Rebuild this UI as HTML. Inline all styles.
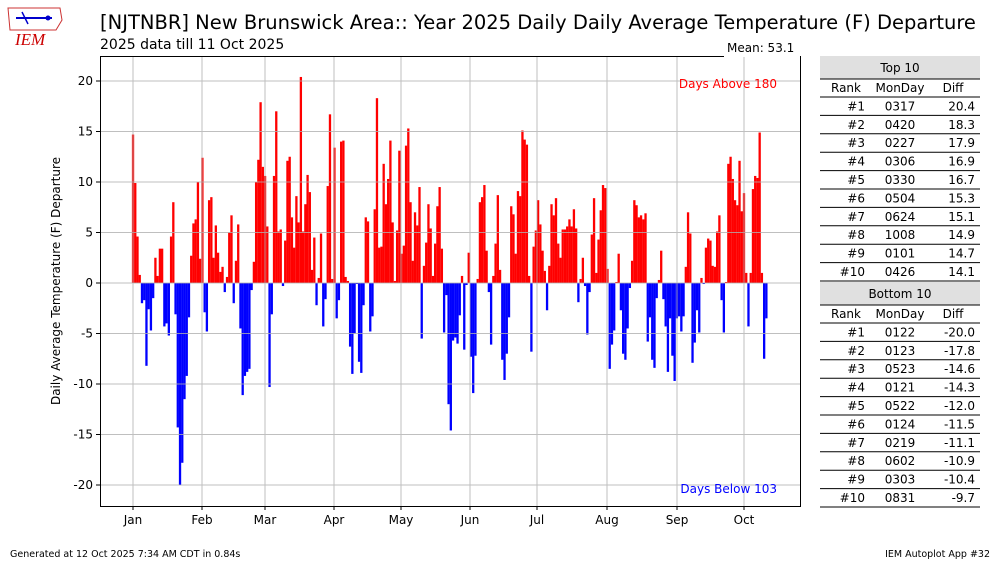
<!DOCTYPE html>
<html><head><meta charset="utf-8"><style>
body{margin:0;background:#fff;width:1000px;height:562px;overflow:hidden;font-family:"Liberation Sans","DejaVu Sans",sans-serif}
</style></head><body>
<svg id="s" width="1000" height="562" xmlns="http://www.w3.org/2000/svg" font-family="DejaVu Sans, Liberation Sans, sans-serif">
<rect width="1000" height="562" fill="#fff"/>
<g id="logo">
<path d="M8 8 L60 8 L62 20 L56 30 L10 30 Z" fill="none" stroke="#c33" stroke-width="1"/>
<line x1="16" y1="18" x2="52" y2="18" stroke="#00c" stroke-width="2"/>
<line x1="22" y1="12" x2="28" y2="24" stroke="#00c" stroke-width="1.5"/>
<circle cx="48" cy="18" r="2.5" fill="#00c"/>
<text x="15" y="45" fill="#c00" font-family="Liberation Serif,serif" font-style="italic" font-size="17">IEM</text>
</g>
<text x="100" y="29" font-size="19.5">[NJTNBR] New Brunswick Area:: Year 2025 Daily Daily Average Temperature (F) Departure</text>
<text x="100" y="49" font-size="14">2025 data till 11 Oct 2025</text>
<g id="bars"></g>
<g id="grid" stroke="#b0b0b0" stroke-width="1" opacity="0.8"></g>
<rect x="100.5" y="56.5" width="700" height="450" fill="none" stroke="#000" stroke-width="1"/>
<rect x="724" y="38" width="76" height="19" fill="#fff"/>
<text x="727" y="52" font-size="12">Mean: 53.1</text>
<text x="777" y="88" font-size="12" fill="red" text-anchor="end">Days Above 180</text>
<text x="777" y="493" font-size="12" fill="blue" text-anchor="end">Days Below 103</text>
<g id="ax" font-size="12"></g>
<text transform="translate(60,281) rotate(-90)" font-size="12" text-anchor="middle">Daily Average Temperature (F) Departure</text>
<g id="tbl" font-size="12"></g>
<text x="10" y="557" font-size="9.5">Generated at 12 Oct 2025 7:34 AM CDT in 0.84s</text>
<text x="990" y="557" font-size="9.5" text-anchor="end">IEM Autoplot App #32</text>
</svg>
<script>
var v=[14.7,9.9,4.6,0.8,-2.0,-1.7,-8.2,-2.6,-4.7,-1.5,
2.5,0.7,3.4,3.4,-4.3,-4.0,-5.2,4.6,8.0,-3.1,
-14.3,-20,-17.8,-11.5,-9.2,-3.4,2.7,5.9,6.3,10.0,
2.4,12.4,-2.9,-4.8,8.2,8.5,2.5,5.7,3.0,1.1,
1.6,-0.9,0.6,5.0,6.7,-2.0,2.2,5.8,-4.5,-11.1,
-9.2,-8.8,-8.5,-0.7,2.1,10.0,12.2,17.9,11.5,10.6,
5.6,-10.3,-3.1,10.6,17.0,5.1,5.3,-0.3,4.2,12.1,
12.5,6.5,3.5,8.6,6.0,20.4,5.1,7.8,10.7,9.0,
1.3,4.5,-2.2,0.5,4.9,-4.3,-1.6,9.6,16.7,0.4,
13.4,-3.5,-1.7,14.0,14.1,0.6,0.2,-6.3,-9.0,-5.0,
-0.1,-7.8,-8.9,-2.2,6.5,6.1,-4.8,-3.3,7.3,18.3,
3.5,3.6,11.8,7.8,10.3,14.1,6.0,0.2,5.2,13.1,
2.9,3.7,13.6,15.3,8.0,2.2,7.0,5.7,9.5,-5.5,
1.7,4.0,7.8,5.4,0.7,3.9,7.6,9.5,3.4,-4.9,
-1.2,-12.0,-14.6,-5.7,-5.4,-6.0,-3.2,0.7,-6.6,-0.2,
3.0,-7.3,-10.9,-7.2,0.4,8.0,8.5,9.7,3.2,-0.9,
-6.1,0.7,3.9,8.7,1.3,-7.6,-9.6,-7.0,-3.4,7.6,
6.8,2.9,9.1,8.6,15.1,14.2,13.7,0.7,-6.8,3.6,
5.2,8.2,5.8,3.2,1.2,-2.7,1.7,7.8,6.7,8.4,
3.9,2.5,5.3,5.3,5.6,6.3,5.6,7.3,5.4,-1.9,
0.4,2.5,-0.3,-5.1,-0.9,4.8,8.4,1.0,4.3,7.2,
9.7,9.4,1.4,-8.5,-6.1,-4.7,0.1,2.9,-2.7,-7.0,
-7.6,-4.5,-0.5,2.2,8.2,7.7,6.5,6.7,6.3,6.9,
-5.8,-3.4,-7.6,-8.4,-1.5,0.3,3.2,-1.6,-4.3,-8.8,
-3.5,-7.2,-9.7,-3.5,-3.3,-4.8,-3.3,1.6,7.0,4.9,
-7.9,-5.9,-2.7,-4.9,0.5,-0.1,3.5,4.4,4.2,1.7,
1.6,5.1,6.7,-1.7,-4.9,0.1,11.8,12.5,10.3,8.2,
7.7,12.1,7.1,8.9,1.0,-4.3,1.0,9.3,10.6,10.4,
14.9,1.0,-7.5,-3.5];
var NS="http://www.w3.org/2000/svg";
function el(p,t,a,txt){var e=document.createElementNS(NS,t);for(var k in a)e.setAttribute(k,a[k]);if(txt!==undefined)e.textContent=txt;p.appendChild(e);return e;}
var g=document.getElementById('grid'),b=document.getElementById('bars'),ax=document.getElementById('ax');
var Y=function(t){return 283-t*10.1;};
for(var t=-20;t<=20;t+=5){var y=Y(t);el(g,'line',{x1:100,x2:800,y1:y,y2:y});el(ax,'line',{x1:96,x2:100,y1:y,y2:y,stroke:'#000'});el(ax,'text',{x:93,y:y+4,'text-anchor':'end'},t);}
var m=[['Jan',133],['Feb',202],['Mar',265],['Apr',334],['May',401],['Jun',470],['Jul',537],['Aug',607],['Sep',677],['Oct',744]];
m.forEach(function(a){el(g,'line',{x1:a[1],x2:a[1],y1:56,y2:506});el(ax,'line',{x1:a[1],x2:a[1],y1:506,y2:510,stroke:'#000'});el(ax,'text',{x:a[1],y:524,'text-anchor':'middle'},a[0]);});
for(var i=0;i<v.length;i++){var x=133+i*2.238-1.12,val=v[i];var y0=Y(Math.max(val,0)),h=Math.abs(val)*10.1;el(b,'rect',{x:x,y:y0,width:2.3,height:Math.max(h,0.3),fill:val>=0?'#f00':'#00f'});}
var tb=document.getElementById('tbl');
function table(y,title,rows){el(tb,'rect',{x:820,y:y,width:160,height:23,fill:'#e0e0e0'});el(tb,'line',{x1:820,x2:980,y1:y+23,y2:y+23,stroke:'#000'});
el(tb,'text',{x:900,y:y+16,'text-anchor':'middle'},title);
var hy=y+32;el(tb,'text',{x:846,y:hy+4,'text-anchor':'middle'},'Rank');el(tb,'text',{x:900,y:hy+4,'text-anchor':'middle'},'MonDay');el(tb,'text',{x:953,y:hy+4,'text-anchor':'middle'},'Diff');
el(tb,'line',{x1:820,x2:980,y1:hy+9,y2:hy+9,stroke:'#000'});
rows.forEach(function(r,i){var ry=hy+18.4*(i+1);el(tb,'text',{x:865,y:ry+4,'text-anchor':'end'},'#'+(i+1));el(tb,'text',{x:900,y:ry+4,'text-anchor':'middle'},r[0]);el(tb,'text',{x:975,y:ry+4,'text-anchor':'end'},r[1]);el(tb,'line',{x1:820,x2:980,y1:ry+9,y2:ry+9,stroke:'#000'});});}
table(56,'Top 10',[['0317','20.4'],['0420','18.3'],['0227','17.9'],['0306','16.9'],['0330','16.7'],['0504','15.3'],['0624','15.1'],['1008','14.9'],['0101','14.7'],['0426','14.1']]);
table(282,'Bottom 10',[['0122','-20.0'],['0123','-17.8'],['0523','-14.6'],['0121','-14.3'],['0522','-12.0'],['0124','-11.5'],['0219','-11.1'],['0602','-10.9'],['0303','-10.4'],['0831','-9.7']]);
</script>
</body></html>
